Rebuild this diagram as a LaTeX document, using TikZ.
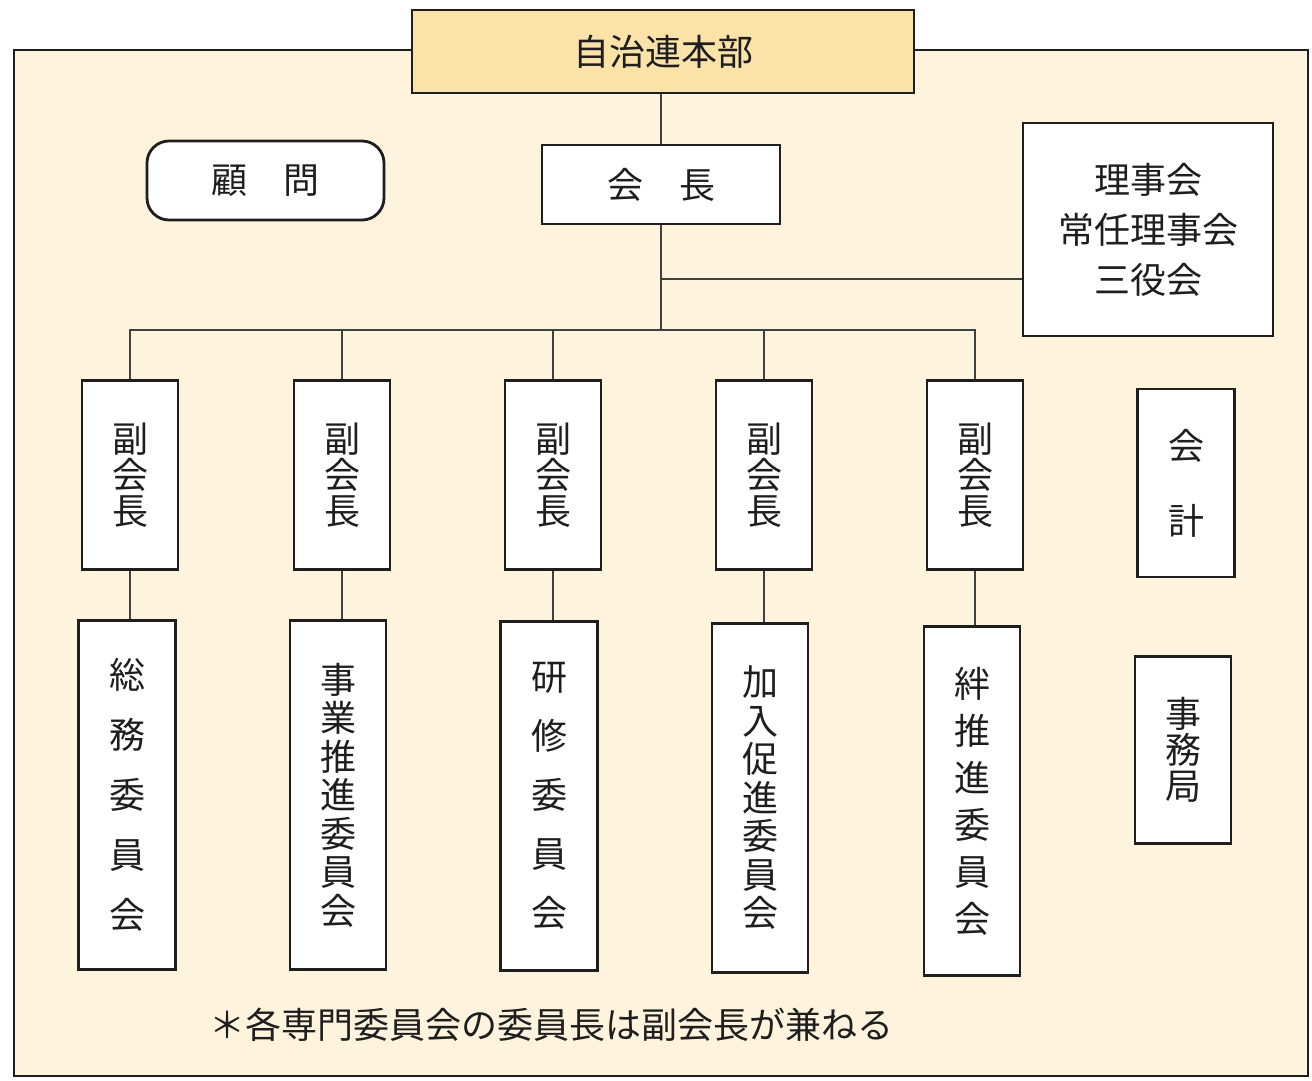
\documentclass[tikz,border=0pt]{standalone}
\usepackage{fontspec}
\newfontfamily\cjk{Noto Sans CJK JP}
\definecolor{cream}{HTML}{FEF3DC}
\definecolor{headfill}{HTML}{FAE2A8}
\definecolor{ink}{HTML}{1E1E1E}
\tikzset{
  boxstyle/.style={draw=ink, line width=2.8pt, fill=white, inner sep=0pt, align=center, text=ink},
  conn/.style={draw=ink!85, line width=1.3pt},
  jp/.style={font=\cjk\fontsize{36}{#1}\selectfont},
  jp/.default=38
}
\begin{document}
\begin{tikzpicture}[x=1pt,y=-1pt]
\useasboundingbox (0,0) rectangle (1312,1080);
\fill[white] (0,0) rectangle (1312,1080);
% outer frame
\draw[ink, line width=2.8pt, fill=cream] (14,50) rectangle (1308,1076);

% top nodes
\node[boxstyle, fill=headfill, minimum width=502, minimum height=83, jp] (hq) at (663,51.5) {自治連本部};
\node[boxstyle, rounded corners=22pt, minimum width=237, minimum height=79, jp] (komon) at (265.5,180.5) {顧　問};
\node[boxstyle, minimum width=238, minimum height=79, jp] (kaicho) at (661,184.5) {会　長};
\node[boxstyle, minimum width=250, minimum height=213, jp=50] (riji) at (1148,229.5) {理事会\\常任理事会\\三役会};

% vice presidents
\node[boxstyle, minimum width=96, minimum height=189, jp=36] (v1) at (130,475) {副\\会\\長};
\node[boxstyle, minimum width=96, minimum height=189, jp=36] (v2) at (342,475) {副\\会\\長};
\node[boxstyle, minimum width=96, minimum height=189, jp=36] (v3) at (553,475) {副\\会\\長};
\node[boxstyle, minimum width=96, minimum height=189, jp=36] (v4) at (764,475) {副\\会\\長};
\node[boxstyle, minimum width=96, minimum height=189, jp=36] (v5) at (975,475) {副\\会\\長};
\node[boxstyle, minimum width=97, minimum height=188, jp=75] (kaikei) at (1186,483) {会\\計};

% committees
\node[boxstyle, minimum width=97, minimum height=349, jp=60] (c1) at (127,795) {総\\務\\委\\員\\会};
\node[boxstyle, minimum width=96, minimum height=349, jp=38.5] (c2) at (338,795) {事\\業\\推\\進\\委\\員\\会};
\node[boxstyle, minimum width=97, minimum height=349, jp=59] (c3) at (549,796) {研\\修\\委\\員\\会};
\node[boxstyle, minimum width=96, minimum height=349, jp=38.5] (c4) at (760,798) {加\\入\\促\\進\\委\\員\\会};
\node[boxstyle, minimum width=96, minimum height=349, jp=47] (c5) at (972,801) {絆\\推\\進\\委\\員\\会};
\node[boxstyle, minimum width=96, minimum height=187, jp=36] (jimu) at (1183,750) {事\\務\\局};

% footnote
\node[jp, text=ink, inner sep=0pt] (note) at (551,1025) {＊各専門委員会の委員長は副会長が兼ねる};

% connectors
\coordinate (bus) at (661,330);
\coordinate (rj) at (661,279);
\draw[conn] (kaicho.north |- hq.south) -- (kaicho.north);
\draw[conn] (kaicho.south) -- (bus);
\draw[conn] (rj) -- (rj -| riji.west);
\draw[conn] (v1.north) |- (v5.north |- bus) -- (v5.north);
\draw[conn] (v2.north) -- (v2.north |- bus);
\draw[conn] (v3.north) -- (v3.north |- bus);
\draw[conn] (v4.north) -- (v4.north |- bus);
\draw[conn] (v1.south) -- (v1.south |- c1.north);
\draw[conn] (v2.south) -- (v2.south |- c2.north);
\draw[conn] (v3.south) -- (v3.south |- c3.north);
\draw[conn] (v4.south) -- (v4.south |- c4.north);
\draw[conn] (v5.south) -- (v5.south |- c5.north);
\end{tikzpicture}
\end{document}
